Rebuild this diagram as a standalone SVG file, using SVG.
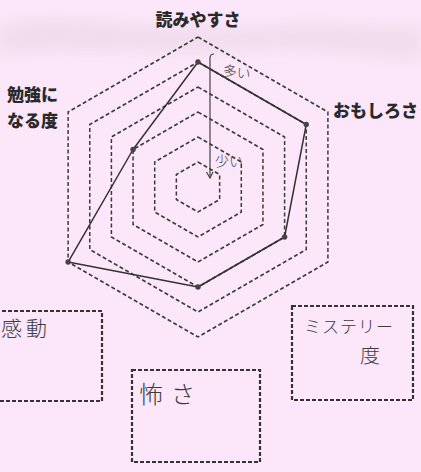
<svg xmlns="http://www.w3.org/2000/svg" width="421" height="472" viewBox="0 0 421 472">
<defs>
<style>
.grid{fill:none;stroke:#3a3a3a;stroke-width:1.5;stroke-dasharray:4 2.5}
.box{fill:none;stroke:#333;stroke-width:2.2;stroke-dasharray:4 2}
.data{fill:none;stroke:#333;stroke-width:1.5;stroke-linejoin:round}
.dot{fill:#444}
.axis{font-family:"Noto Sans CJK JP","Noto Sans",sans-serif;font-weight:900;font-size:17px;fill:#2a2a2a}
.hand{font-family:"Noto Sans CJK JP","Noto Sans",sans-serif;font-weight:300;fill:#3c3c3c}
</style>
<filter id="blur" x="-20%" y="-50%" width="140%" height="200%"><feGaussianBlur stdDeviation="8"/></filter>
</defs>
<rect x="0" y="0" width="421" height="472" fill="#fce6f9"/>
<g id="scan-band" filter="url(#blur)" opacity="0.18">
<path d="M0,25 C80,10 160,35 240,28 C320,20 380,30 421,25 L421,60 C360,55 300,45 240,50 C160,55 80,45 0,55 Z" fill="#b8b0b6"/>
</g>
<g id="grid">
<polygon class="grid" points="198,37 327.9,112 327.9,262 198,337 68.1,262 68.1,112"/>
<polygon class="grid" points="198,62 306.25,124.5 306.25,249.5 198,312 89.75,249.5 89.75,124.5"/>
<polygon class="grid" points="198,87 284.6,137 284.6,237 198,287 111.4,237 111.4,137"/>
<polygon class="grid" points="198,112 262.95,149.5 262.95,224.5 198,262 133.05,224.5 133.05,149.5"/>
<polygon class="grid" points="198,137 241.3,162 241.3,212 198,237 154.7,212 154.7,162"/>
<polygon class="grid" points="198,162 219.65,174.5 219.65,199.5 198,212 176.35,199.5 176.35,174.5"/>
</g>
<g id="connectors">
<polygon class="data" points="198,62 306.25,124.5 284.6,237 198,287 68.1,262 133.05,149.5"/>
<circle class="dot" cx="198" cy="62" r="2.7"/>
<circle class="dot" cx="306.25" cy="124.5" r="2.7"/>
<circle class="dot" cx="284.6" cy="237" r="2.7"/>
<circle class="dot" cx="198" cy="287" r="2.7"/>
<circle class="dot" cx="68.1" cy="262" r="2.7"/>
<circle class="dot" cx="133.05" cy="149.5" r="2.7"/>
<path d="M214,54 Q210,54 210,58 L210,178" fill="none" stroke="#444" stroke-width="1.2"/>
<polyline points="206.5,172 210,178 213,172" fill="none" stroke="#444" stroke-width="1.2"/>
</g>
<g id="label-yomiyasusa"><text class="axis" x="198" y="26" text-anchor="middle">読みやすさ</text></g>
<g id="label-omoshirosa"><text class="axis" x="333" y="117">おもしろさ</text></g>
<g id="label-benkyou"><text class="axis" x="7" y="101">勉強に</text><text class="axis" x="7" y="127">なる度</text></g>
<g id="label-ooi"><text class="hand" x="223" y="77" font-size="14" transform="rotate(8 235 70)">多い</text></g>
<g id="label-sukunai"><text class="hand" x="215" y="166" font-size="14">少い</text></g>
<g id="box-kandou">
<rect class="box" x="-4" y="311" width="106" height="90"/>
<text class="hand" x="1" y="336" font-size="21" letter-spacing="4">感動</text>
</g>
<g id="box-kowasa">
<rect class="box" x="132" y="370" width="128" height="92"/>
<text class="hand" x="139" y="403" font-size="24" letter-spacing="8">怖さ</text>
</g>
<g id="box-mystery">
<rect class="box" x="292" y="306" width="121" height="94"/>
<text class="hand" x="304" y="333" font-size="17" letter-spacing="1">ミステリー</text>
<text class="hand" x="360" y="363" font-size="20">度</text>
</g>
</svg>
